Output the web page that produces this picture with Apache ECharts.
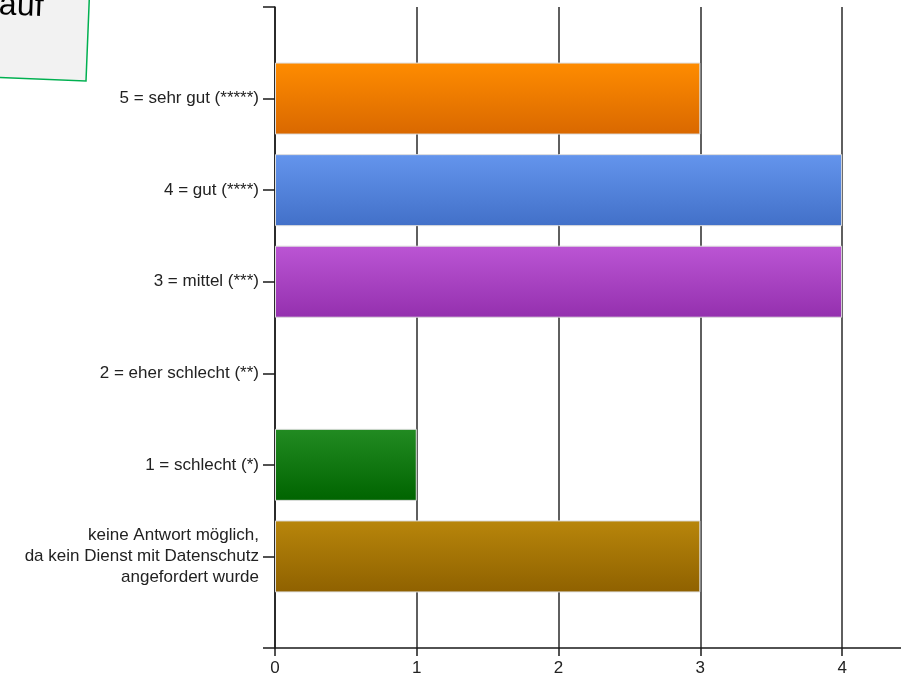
<!DOCTYPE html>
<html>
<head>
<meta charset="utf-8">
<script src="https://cdn.jsdelivr.net/npm/echarts@6/dist/echarts.min.js"></script>
<style>
  html, body { margin: 0; padding: 0; background: #ffffff; }
  #chart { width: 901px; height: 678px; }
</style>
</head>
<body>
<div id="chart"></div>
<script>
// Rating categories, bottom to top; the blank entries pad both ends of the axis
const categories = [
  '',
  'keine Antwort möglich,\nda kein Dienst mit Datenschutz\nangefordert wurde',
  '1 = schlecht (*)',
  '2 = eher schlecht (**)',
  '3 = mittel (***)',
  '4 = gut (****)',
  '5 = sehr gut (*****)',
  ''
];
// Number of answers per category
const counts = [null, 3, 1, 0, 4, 4, 3, null];
// Bar fill per category: [top, bottom] of the vertical gradient
const barColors = [
  null,
  ['#b8860b', '#8f6100'],
  ['#228b22', '#006400'],
  ['#888888', '#666666'],
  ['#bb55d4', '#9430ae'],
  ['#6495ed', '#4270c8'],
  ['#ff8c00', '#d96800'],
  null
];
const xTicks = [0, 1, 2, 3, 4];

const chart = echarts.init(document.getElementById('chart'), null, { renderer: 'canvas' });

const seriesData = counts.map((v, i) => {
  if (v === null) return null;
  const c = barColors[i];
  return {
    value: v,
    itemStyle: {
      color: new echarts.graphic.LinearGradient(0, 0, 0, 1, [
        { offset: 0, color: c[0] },
        { offset: 1, color: c[1] }
      ]),
      borderColor: v > 0 ? '#dddddd' : 'rgba(0,0,0,0)',
      borderWidth: v > 0 ? 1 : 0
    }
  };
});

chart.setOption({
  animation: false,
  backgroundColor: '#ffffff',
  grid: {
    left: 275, width: 638, top: 7, bottom: 30,
    containLabel: false,
    outerBoundsMode: 'none'
  },
  xAxis: {
    type: 'value',
    min: 0,
    max: 4.5,
    interval: 1,
    axisLine: { show: true, onZero: false, lineStyle: { color: '#1a1a1a', width: 1.5 } },
    axisTick: { show: true, length: 8, lineStyle: { color: '#1a1a1a', width: 1.5 } },
    axisLabel: {
      color: '#222222',
      fontFamily: 'Liberation Sans',
      fontSize: 17,
      margin: 12,
      formatter: v => (xTicks.indexOf(v) >= 0 ? String(v) : '')
    },
    splitLine: { show: true, lineStyle: { color: '#2a2a2a', width: 1.5 } }
  },
  yAxis: {
    type: 'category',
    data: categories,
    boundaryGap: false,
    axisLine: { show: true, lineStyle: { color: '#1a1a1a', width: 1.5 } },
    axisTick: { show: true, length: 12, lineStyle: { color: '#1a1a1a', width: 1.5 } },
    axisLabel: {
      color: '#222222',
      fontFamily: 'Liberation Sans',
      fontSize: 17,
      lineHeight: 21,
      margin: 16,
      align: 'right'
    },
    splitLine: { show: false }
  },
  series: [{
    type: 'bar',
    data: seriesData,
    barWidth: 72,
    silent: true
  }],
  graphic: [{
    type: 'group',
    x: -12,
    y: -29,
    rotation: -0.04,
    originX: 98,
    originY: 110,
    children: [{
      type: 'rect',
      shape: { x: 0, y: 0, width: 98, height: 110 },
      style: { fill: '#f2f2f2', stroke: '#00b050', lineWidth: 1.5 }
    }, {
      type: 'text',
      style: {
        x: 8, y: 22,
        text: 'auf',
        fill: '#000000',
        font: '32px "Liberation Sans"'
      }
    }]
  }]
});
</script>
</body>
</html>
